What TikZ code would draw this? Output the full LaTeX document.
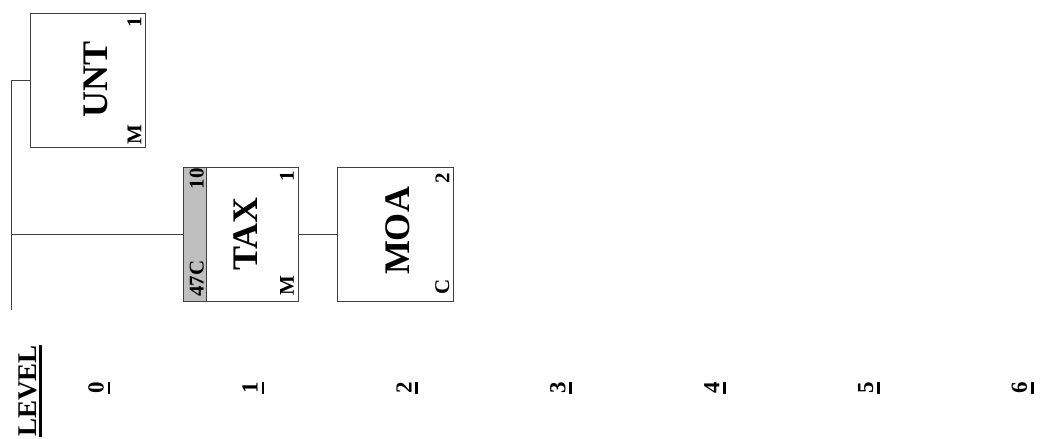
\documentclass[tikz,border=0pt]{standalone}
\usepackage{fontspec}
\setmainfont{Liberation Serif}
\begin{document}
\begin{tikzpicture}[x=1pt,y=-1pt,
  box/.style={draw=black!75,line width=0.9pt,minimum width=#1,minimum height=134pt,inner sep=0pt},
  strip/.style={box=23pt,fill=black!25},
  conn/.style={draw=black!75,line width=0.9pt},
  big/.style={rotate=90,inner sep=0pt,anchor=south,font=\fontsize{36}{40}\selectfont\bfseries},
  tagtr/.style={rotate=90,inner sep=0pt,anchor=south east,font=\fontsize{21}{24}\selectfont\bfseries},
  tagbr/.style={rotate=90,inner sep=0pt,anchor=south west,font=\fontsize{21}{24}\selectfont\bfseries},
  lvl/.style={rotate=90,inner sep=0pt,anchor=south,font=\fontsize{23}{27}\selectfont\bfseries},
  ul/.style={line width=2.8pt}]
\useasboundingbox (0,0) rectangle (1042,439);
% boxes
\node[box=115pt] (unt) at (87.5,80) {};
\node[strip] (taxs) at (194.5,234) {};
\node[box=92pt] (tax) at (252,234) {};
\node[box=116pt] (moa) at (395,234) {};
% connectors
\coordinate (top) at (11,80);
\coordinate (root) at (11,310);
\draw[conn] (root) -- (top) -- (unt.west);
\draw[conn] (top |- taxs.west) -- (taxs.west);
\draw[conn] (tax.east) -- (moa.west);
% texts
\node[big] (untt) at (108,79) {UNT};
\node[tagtr] (unt1) at (141.5,17) {1};
\node[tagbr] (untm) at (141.5,145) {M};
\node[tagtr] (tax10) at (204,168) {10};
\node[tagbr] (tax47) at (204,297) {47C};
\node[big] (taxt) at (257.5,234) {TAX};
\node[tagtr] (tax1) at (294,171) {1};
\node[tagbr] (taxm) at (294,296) {M};
\node[big] (moat) at (410,231) {MOA};
\node[tagtr] (moa2) at (449.5,173) {2};
\node[tagbr] (moac) at (449.5,295) {C};
% levels
\node[rotate=90,inner sep=0pt,anchor=south,font=\fontsize{27}{30}\selectfont\bfseries] (level) at (37,391) {LEVEL};
\draw[ul] ([xshift=3.5pt]level.south west) -- ([xshift=3.5pt]level.south east);
\foreach \i in {0,...,6}{
  \node[lvl] (l\i) at (104+153.9*\i,388) {\i};
  \draw[ul] ([xshift=5pt]l\i.south west) -- ([xshift=5pt]l\i.south east);
}
\end{tikzpicture}
\end{document}
